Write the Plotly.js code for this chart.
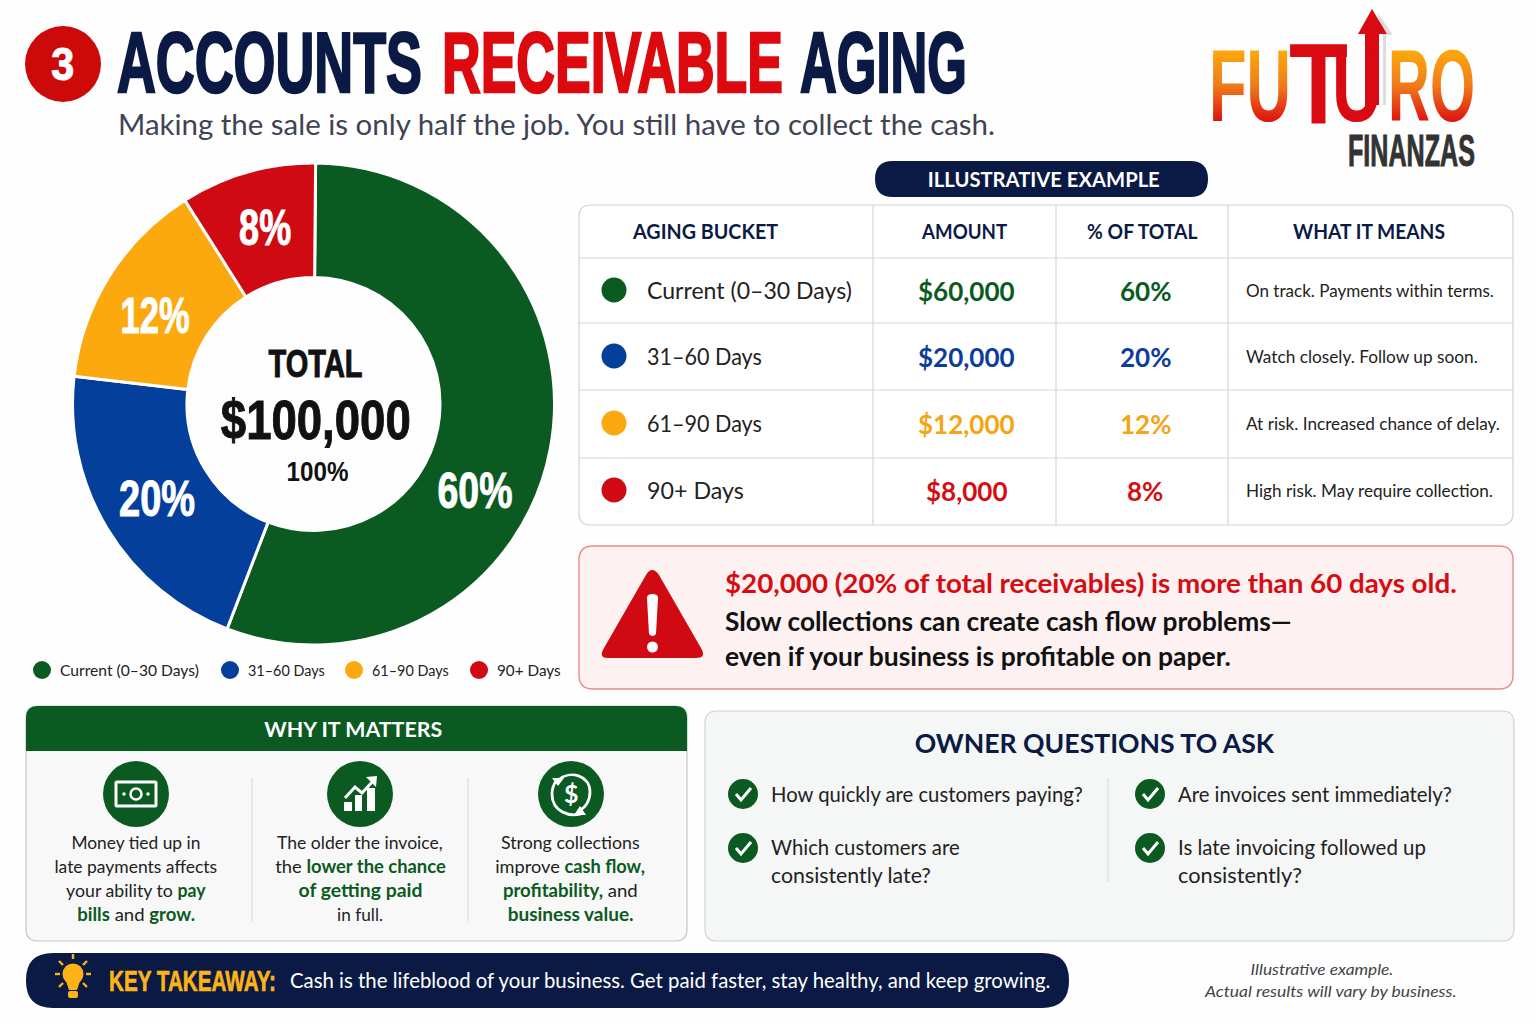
<!DOCTYPE html>
<html>
<head>
<meta charset="utf-8">
<script src="https://cdn.plot.ly/plotly-3.0.1.min.js"></script>
<style>html,body{margin:0;padding:0;background:#fff}#chart{width:1536px;height:1024px}</style>
</head>
<body>
<div id="chart"></div>
<script>
// values
buckets = ['Current (0–30 Days)', '31–60 Days', '61–90 Days', '90+ Days']
amounts = ['$60,000', '$20,000', '$12,000', '$8,000']
percents = ['60%', '20%', '12%', '8%']
meanings = ['On track. Payments within terms.', 'Watch closely. Follow up soon.', 'At risk. Increased chance of delay.', 'High risk. May require collection.']
// slice sizes measured from the angles in the picture, they are not the printed percents
sliceShares = [55.7, 21, 14.2, 9.1]
sliceColors = ['#0b5a22', '#043f9b', '#fca80f', '#cf0a12']
tableColors = ['#0b5a22', '#0c3d9c', '#f5a413', '#d50d12']
tableHeads = ['AGING BUCKET', 'AMOUNT', '% OF TOTAL', 'WHAT IT MEANS']

whyLines = [
    ['Money tied up in', 'late payments affects', 'your ability to <g>pay</g>', '<g>bills</g> and <g>grow.</g>'],
    ['The older the invoice,', 'the <g>lower the chance</g>', '<g>of getting paid</g>', 'in full.'],
    ['Strong collections', 'improve <g>cash flow,</g>', '<g>profitability,</g> and', '<g>business value.</g>']
]
questions = [
    ['How quickly are customers paying?'],
    ['Which customers are', 'consistently late?'],
    ['Are invoices sent immediately?'],
    ['Is late invoicing followed up', 'consistently?']
]

W = 1536
H = 1024
BODY = 'Lato, "Noto Sans", sans-serif'
NARROW = '"Liberation Sans", sans-serif'
NAVY = '#0a1a44'
GREEN = '#0b5a22'

// text widths in the picture, used to fit the fonts we have
legendWidths = [139, 77, 77, 64]
bucketWidths = [205, 115, 115, 97]
meaningWidths = [248, 232, 254, 247]
headWidths = [146, 86, 111, 152]
whyWidths = [[129, 163, 140, 118], [166, 171, 124, 46], [139, 150, 135, 126]]
questionWidths = [[312], [189, 160], [274], [248, 124]]
sliceLabelWidths = [75, 76, 69, 52]

shapes = []
anns = []
fits = {}
heavy = {}

// pixel helpers, everything outside the pie sits on paper coords
px = (x) => x / W
py = (y) => 1 - y / H

path = (d, fill, line, lw) => {
    n = 0
    conv = d.replace(/-?\d+(\.\d+)?/g, (m) => {
        n++
        return (n % 2 ? px(+m) : py(+m)).toFixed(5)
    })
    shapes.push({type: 'path', xref: 'paper', yref: 'paper', path: conv, fillcolor: fill || 'rgba(0,0,0,0)', line: {color: line || 'rgba(0,0,0,0)', width: lw || 0}})
}
rrect = (x0, y0, x1, y1, r, fill, line, lw) => {
    path(`M ${x0 + r} ${y0} L ${x1 - r} ${y0} Q ${x1} ${y0} ${x1} ${y0 + r} L ${x1} ${y1 - r} Q ${x1} ${y1} ${x1 - r} ${y1} L ${x0 + r} ${y1} Q ${x0} ${y1} ${x0} ${y1 - r} L ${x0} ${y0 + r} Q ${x0} ${y0} ${x0 + r} ${y0} Z`, fill, line, lw)
}
circle = (x, y, r, fill, line, lw) => {
    shapes.push({type: 'circle', xref: 'paper', yref: 'paper', x0: px(x - r), x1: px(x + r), y0: py(y + r), y1: py(y - r), fillcolor: fill || 'rgba(0,0,0,0)', line: {color: line || 'rgba(0,0,0,0)', width: lw || 0}})
}
seg = (x0, y0, x1, y1, color, lw) => {
    path(`M ${x0} ${y0} L ${x1} ${y1}`, null, color, lw)
}
txt = (x, y, text, size, color, o) => {
    o = o || {}
    anns.push({
        xref: 'paper', yref: 'paper', x: px(x), y: py(y), text: text, showarrow: false,
        xanchor: o.a || 'left', yanchor: 'middle', borderpad: 0, align: o.a || 'left',
        font: {family: o.f || BODY, size: size, color: color, weight: o.w || 400, style: o.i ? 'italic' : 'normal'}
    })
    if (o.fit) fits[anns.length - 1] = o.fit
    if (o.heavy) heavy[anns.length - 1] = o.heavy
    return anns.length - 1
}
greenText = (s) => s.replace(/<g>/g, `<span style="color:${GREEN};font-weight:700">`).replace(/<\/g>/g, '</span>')

// ---- header
circle(63, 64, 38, '#cc0a0a')
txt(63, 64, '3', 46, '#fff', {a: 'center', f: NARROW, w: 700, fit: 23, heavy: 1})
txt(116, 62, 'ACCOUNTS', 85, NAVY, {f: NARROW, w: 700, fit: 305, heavy: 2.5})
txt(440.5, 62, 'RECEIVABLE', 85, '#dc0a0e', {f: NARROW, w: 700, fit: 341, heavy: 2.5})
txt(798.5, 62, 'AGING', 85, NAVY, {f: NARROW, w: 700, fit: 167, heavy: 2.5})
txt(117, 123, 'Making the sale is only half the job. You still have to collect the cash.', 29, '#3e4452', {fit: 877})

// ---- logo
logoFU = txt(1208, 86, 'FU', 102, '#e0320f', {f: NARROW, w: 700, fit: 82})
txt(1288, 82.5, 'T', 115, '#d90a12', {f: NARROW, w: 700, fit: 59})
txt(1331, 86, 'U', 102, '#d90a12', {f: NARROW, w: 700, fit: 50})
logoRO = txt(1387, 86, 'RO', 102, '#e0320f', {f: NARROW, w: 700, fit: 87})
path('M 1377 12 L 1393 35 L 1386 35 L 1386 105 L 1383 105 L 1383 35 Z', '#dcdcdc')
path('M 1372 9 L 1387 34 L 1379 34 L 1379 105 L 1365 105 L 1365 34 L 1358 34 Z', '#d90a12')
txt(1347, 150, 'FINANZAS', 45, '#333333', {f: NARROW, w: 700, fit: 127, heavy: 1})

// ---- donut centre, slice labels, legend
txt(315, 364, 'TOTAL', 38, '#111', {a: 'center', f: NARROW, w: 700, fit: 94, heavy: 1})
txt(316, 419, '$100,000', 56, '#111', {a: 'center', f: NARROW, w: 700, fit: 190, heavy: 1})
txt(317, 472, '100%', 27, '#111', {a: 'center', f: NARROW, w: 700, fit: 62})
labelSpots = [[475, 491], [157, 499], [155, 316], [265, 228]]
percents.forEach((p, i) => txt(labelSpots[i][0], labelSpots[i][1], p, 50, '#fff', {a: 'center', f: NARROW, w: 700, fit: sliceLabelWidths[i], heavy: 1}))

legendDots = [42, 230, 354, 479]
buckets.forEach((b, i) => {
    circle(legendDots[i], 670, 9, sliceColors[i])
    txt(legendDots[i] + 17, 670, b, 15.5, '#222', {fit: legendWidths[i]})
})

// ---- table
rrect(875, 161, 1208, 197, 18, NAVY)
txt(1044, 179, 'ILLUSTRATIVE EXAMPLE', 20, '#fff', {a: 'center', w: 700, fit: 232})
rrect(579, 205, 1513, 525, 12, '#fff', '#cfd2d6', 1.2)
;[258, 323, 390, 458].forEach((y) => seg(579, y, 1513, y, '#d4d6da', 1.2))
;[873, 1056, 1228].forEach((x) => seg(x, 205, x, 525, '#d4d6da', 1.2))
headX = [705, 964, 1142, 1369]
tableHeads.forEach((h, i) => txt(headX[i], 231, h, 20, NAVY, {a: 'center', w: 700, fit: headWidths[i]}))
rowY = [291, 357, 424, 491]
buckets.forEach((b, i) => {
    circle(614, rowY[i] - 1, 12.5, sliceColors[i])
    txt(646, rowY[i] - 1, b, 23, '#222', {fit: bucketWidths[i]})
    txt(966, rowY[i], amounts[i], 26, tableColors[i], {a: 'center', w: 700})
    txt(1145, rowY[i], percents[i], 26, tableColors[i], {a: 'center', w: 700})
    txt(1245, rowY[i] - 1, meanings[i], 17, '#222', {fit: meaningWidths[i]})
})

// ---- alert box
rrect(579, 546, 1513, 689, 14, '#fdf1f1', '#ea8a8a', 1.4)
path('M 646 575 Q 652 565 659 575 L 701 648 Q 707 658 696 658 L 608 658 Q 598 658 604 648 Z', '#cf0a12')
path('M 647 598 Q 647 594 652.5 594 Q 658 594 658 598 L 656 634 Q 652.5 638 649 634 Z', '#fff')
circle(652.5, 647, 5.5, '#fff')
txt(724, 583, '$20,000 (20% of total receivables) is more than 60 days old.', 26, '#d50d12', {w: 700, fit: 732})
txt(724, 621, 'Slow collections can create cash flow problems—', 26, '#111', {w: 700, fit: 567})
txt(724, 656, 'even if your business is profitable on paper.', 26, '#111', {w: 700, fit: 506})

// ---- why it matters
rrect(26, 706, 687, 941, 12, '#f7f8f7', '#c4c8c6', 1.2)
path('M 38 706 L 675 706 Q 687 706 687 718 L 687 751 L 26 751 L 26 718 Q 26 706 38 706 Z', GREEN)
txt(353, 728, 'WHY IT MATTERS', 21, '#fff', {a: 'center', w: 700, fit: 178})
whyX = [136, 360, 570]
iconX = [136, 360, 571]
whyLines.forEach((lines, i) => {
    circle(iconX[i], 794, 33, GREEN)
    lines.forEach((l, j) => txt(whyX[i], 841.5 + j * 24.3, greenText(l), 18, '#222', {a: 'center', fit: whyWidths[i][j]}))
})
;[252, 468].forEach((x) => seg(x, 778, x, 921, '#d6d8d6', 1))
// banknote
rrect(116, 782, 156, 806, 1, null, '#fff', 3)
circle(136, 794, 5.5, null, '#fff', 2.5)
circle(124, 794, 1.8, '#fff')
circle(148, 794, 1.8, '#fff')
// growth bars
rrect(344, 802, 352, 811, 0.5, '#fff')
rrect(355, 795, 362, 811, 0.5, '#fff')
rrect(367, 788, 375, 811, 0.5, '#fff')
path('M 345 798 L 355 787 L 362 793 L 374 780', null, '#fff', 3)
path('M 366 777 L 377 776 L 376 787 Z', '#fff')
// cycle with dollar
path('M 558 780 C 570 770 590 775 590 792 C 590 800 586 808 578 811', null, '#fff', 2.8)
path('M 584 813 C 570 818 552 812 552 794 C 552 788 554 784 556 781', null, '#fff', 2.8)
path('M 552 778 L 564 778 L 558 786 Z', '#fff')
path('M 586 815 L 574 815 L 580 806 Z', '#fff')
txt(571, 793, '$', 25, '#fff', {a: 'center', w: 700})

// ---- owner questions
rrect(705, 711, 1514, 941, 12, '#f5f6f6', '#d0d3d3', 1.2)
txt(1094, 742, 'OWNER QUESTIONS TO ASK', 27, NAVY, {a: 'center', w: 700, fit: 360})
seg(1108, 778, 1108, 882, '#d8dada', 1)
qSpots = [[743, 794], [743, 848], [1150, 794], [1150, 848]]
questions.forEach((q, i) => {
    s = qSpots[i]
    circle(s[0], s[1], 15, GREEN)
    path(`M ${s[0] - 7} ${s[1]} L ${s[0] - 2} ${s[1] + 6} L ${s[0] + 8} ${s[1] - 6}`, null, '#fff', 3)
    q.forEach((l, j) => txt(s[0] + 27, (s[1] - (q.length > 1 ? 1 : 0)) + j * 28, l, 20.5, '#222', {fit: questionWidths[i][j]}))
})

// ---- takeaway
rrect(26, 953, 1069, 1008, 27, NAVY)
circle(73, 974, 10.5, '#fcb316')
path('M 66 981 L 69 990 L 77 990 L 80 981 Z', '#fcb316')
rrect(68, 991, 78, 998, 2, '#fcb316')
rays = [[55, 974, 60, 974], [86, 974, 91, 974], [59, 961, 63, 965], [87, 961, 83, 965], [73, 954, 73, 959], [59, 987, 63, 983], [87, 987, 83, 983]]
rays.forEach((r) => seg(r[0], r[1], r[2], r[3], '#fcb316', 2.4))
txt(108, 980, 'KEY TAKEAWAY:', 30, '#fcb316', {f: NARROW, w: 700, fit: 167, heavy: 0.7})
txt(289, 980, 'Cash is the lifeblood of your business. Get paid faster, stay healthy, and keep growing.', 20.5, '#fff', {fit: 761})

// ---- foot note
txt(1322, 969, 'Illustrative example.', 15.5, '#444', {a: 'center', i: true, fit: 143})
txt(1330, 991, 'Actual results will vary by business.', 15.5, '#444', {a: 'center', i: true, fit: 253})

donut = {
    type: 'pie',
    labels: buckets,
    values: sliceShares,
    sort: false,
    direction: 'clockwise',
    rotation: 0.5,
    hole: 0.525,
    textinfo: 'none',
    hoverinfo: 'skip',
    showlegend: false,
    marker: {colors: sliceColors, line: {color: '#fff', width: 3}},
    domain: {x: [72.5 / W, 554.5 / W], y: [1 - 646 / H, 1 - 162 / H]}
}

layout = {
    width: W,
    height: H,
    margin: {l: 0, r: 0, t: 0, b: 0},
    paper_bgcolor: '#fefefe',
    showlegend: false,
    shapes: shapes,
    annotations: anns
}

Plotly.newPlot('chart', [donut], layout, {staticPlot: true, displayModeBar: false}).then(() => {
    // squeeze condensed text to the width it has in the picture
    Object.keys(fits).forEach((i) => {
        el = document.querySelector(`.annotation[data-index="${i}"] text`)
        if (!el) return
        k = fits[i] / el.getBBox().width
        el.style.transformBox = 'fill-box'
        el.style.transformOrigin = anns[i].xanchor + ' center'
        el.style.transform = `scaleX(${k})`
    })
    // squeezing thins the stems, give them some weight back
    Object.keys(heavy).forEach((i) => {
        el = document.querySelector(`.annotation[data-index="${i}"] text`)
        if (!el) return
        el.style.stroke = anns[i].font.color
        el.style.strokeWidth = heavy[i] + 'px'
    })
    // orange to red fill for the logo letters
    svg = document.querySelector('#chart .main-svg')
    defs = svg.querySelector('defs')
    g = document.createElementNS('http://www.w3.org/2000/svg', 'linearGradient')
    g.setAttribute('id', 'logoFade')
    g.setAttribute('x1', 0); g.setAttribute('y1', 0); g.setAttribute('x2', 0); g.setAttribute('y2', 1)
    ;[['0.2', '#fba80d'], ['0.5', '#ef7a1a'], ['0.82', '#dd1010']].forEach((s) => {
        stop = document.createElementNS('http://www.w3.org/2000/svg', 'stop')
        stop.setAttribute('offset', s[0])
        stop.setAttribute('stop-color', s[1])
        g.appendChild(stop)
    })
    defs.appendChild(g)
    ;[logoFU, logoRO].forEach((i) => {
        document.querySelector(`.annotation[data-index="${i}"] text`).style.fill = 'url(#logoFade)'
    })
})
</script>
</body>
</html>
